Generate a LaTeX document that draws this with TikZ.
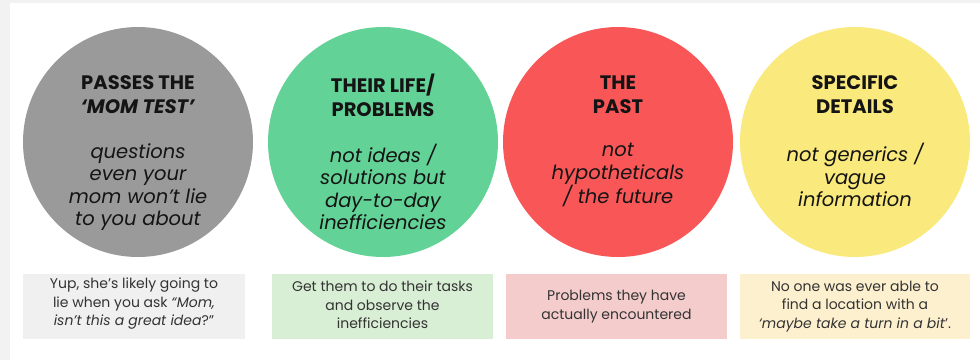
\documentclass[tikz,border=0pt]{standalone}
\usepackage{fontspec}
\setmainfont{Poppins}
\definecolor{bggray}{HTML}{F2F2F2}
\definecolor{cgray}{HTML}{9A9A9A}
\definecolor{cgreen}{HTML}{63D297}
\definecolor{cred}{HTML}{F95757}
\definecolor{cyellow}{HTML}{FAE97C}
\definecolor{bgrayc}{HTML}{F0F0F0}
\definecolor{bgreenc}{HTML}{D9EFD5}
\definecolor{bredc}{HTML}{F4CCCC}
\definecolor{byellowc}{HTML}{FDF0CF}
\definecolor{txt}{HTML}{141414}
\definecolor{btxt}{HTML}{333333}
\tikzset{
  disc/.style={circle, minimum size=230pt, inner sep=0pt, fill=#1},
  ttl/.style={align=center, text=txt, font=\fontsize{19.5}{24}\selectfont\bfseries},
  bdy/.style={align=center, text=txt, font=\fontsize{19.5}{22.5}\selectfont\itshape},
  note/.style={rectangle, minimum width=#1, minimum height=65pt, inner sep=0pt},
  notetext/.style={align=center, text=btxt, font=\fontsize{14}{18.5}\selectfont},
}
\begin{document}
\begin{tikzpicture}[x=1pt,y=-1pt]
\useasboundingbox (0,0) rectangle (980,360);
\fill[bggray] (0,0) rectangle (980,360);
\fill[white] (10,3) rectangle (980,360);
% circles
\node[disc=cgray] (c1) at (138,142) {};
\node[disc=cgreen] (c2) at (383,142) {};
\node[disc=cred] (c3) at (618,142) {};
\node[disc=cyellow] (c4) at (855,142) {};
% titles
\node[ttl] (t1) at (138,95) {PASSES THE\\\textit{‘MOM TEST’}};
\node[ttl] (t2) at (383,95) {THEIR LIFE/\\PROBLEMS};
\node[ttl] (t3) at (618,95) {THE\\PAST};
\node[ttl] (t4) at (855,95) {SPECIFIC\\DETAILS};
% bodies
\node[bdy] (b1) at (138,187) {questions\\even your\\mom won’t lie\\to you about};
\node[bdy] (b2) at (383,187) {not ideas /\\solutions but\\day-to-day\\inefficiencies};
\node[bdy] (b3) at (618,175) {not\\hypotheticals\\/ the future};
\node[bdy] (b4) at (855,175) {not generics /\\vague\\information};
% notes
\node[note=222pt, fill=bgrayc] (n1) at (134,306.5) {};
\node[note=221pt, fill=bgreenc] (n2) at (382.5,306.5) {};
\node[note=221pt, fill=bredc] (n3) at (616.5,306.5) {};
\node[note=230pt, fill=byellowc] (n4) at (855,306.5) {};
\node[notetext] (m1) at (134,304) {Yup, she’s likely going to\\lie when you ask \textit{“Mom,}\\\textit{isn’t this a great idea}?”};
\node[notetext] (m2) at (382.5,305) {Get them to do their tasks\\and observe the\\inefficiencies};
\node[notetext] (m3) at (616.5,306.5) {Problems they have\\actually encountered};
\node[notetext] (m4) at (855,306.5) {No one was ever able to\\find a location with a\\\textit{‘maybe take a turn in a bit}’.};
\end{tikzpicture}
\end{document}
